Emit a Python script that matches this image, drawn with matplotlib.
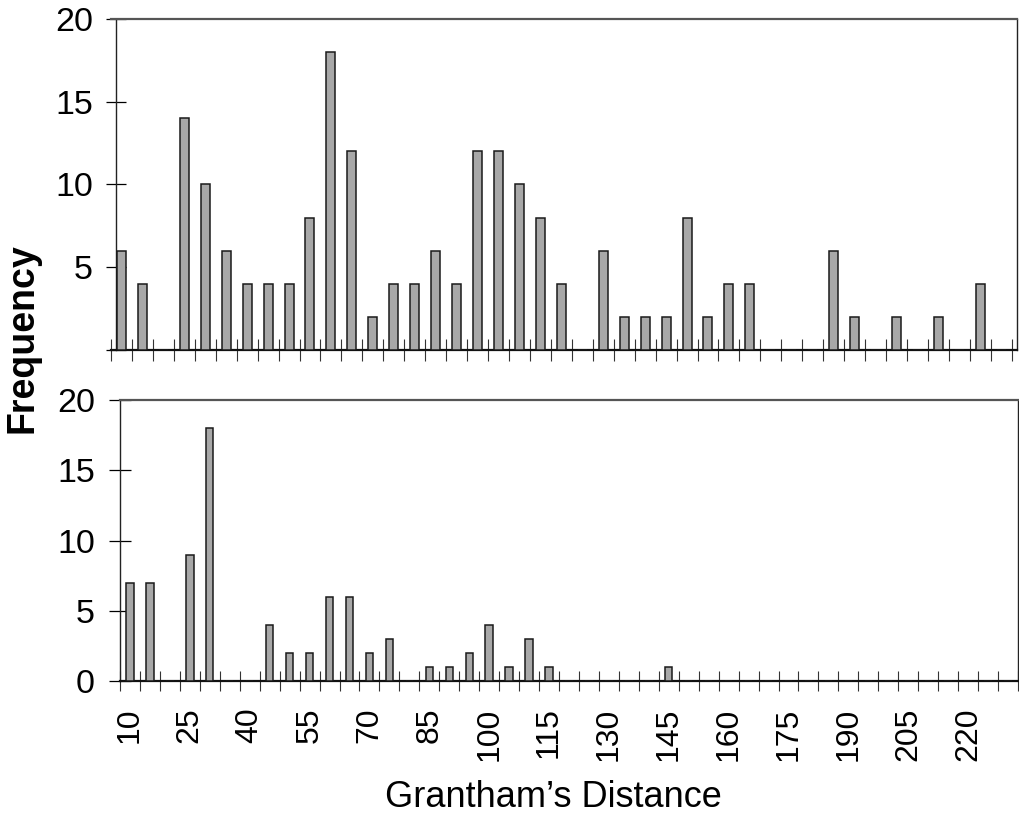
import matplotlib
matplotlib.use("Agg")
import matplotlib.pyplot as plt
import numpy as np

plt.rcParams['font.family'] = ['Liberation Sans', 'DejaVu Sans']

# ---- data ----
top_categories = list(range(10, 221, 5))          # 43 bins
top_values = [6, 4, 0, 14, 10, 6, 4, 4, 4, 8, 18, 12, 2, 4, 4, 6, 4, 12, 12, 10,
              8, 4, 0, 6, 2, 2, 2, 8, 2, 4, 4, 0, 0, 0, 6, 2, 0, 2, 0, 2,
              0, 4, 0]

bottom_categories = list(range(10, 231, 5))       # 45 bins
bottom_values = [7, 7, 0, 9, 18, 0, 0, 4, 2, 2, 6, 6, 2, 3, 0, 1, 1, 2, 4, 1,
                 3, 1, 0, 0, 0, 0, 0, 1, 0, 0, 0, 0, 0, 0, 0, 0, 0, 0, 0, 0,
                 0, 0, 0, 0, 0]

y_ticks = [0, 5, 10, 15, 20]
label_step = 3

W, H = 1020, 813
fig = plt.figure(figsize=(W / 100, H / 100), dpi=100)

bar_face = '#a8a8a8'
bar_edge = '#1a1a1a'

def px_axes(l, r, t, b):
    return fig.add_axes([l / W, 1 - b / H, (r - l) / W, (b - t) / H])

# ---- top panel ----
ax1 = px_axes(111, 1017, 19, 350)
n1 = len(top_categories)
x1 = np.arange(n1)
ax1.bar(x1, top_values, width=0.43, color=bar_face, edgecolor=bar_edge,
        linewidth=1.1, zorder=3)
ax1.set_xlim(-0.5, n1 - 0.5 + 5.3 / 20.95)
ax1.set_ylim(0, 20)
ax1.spines['left'].set_position(('data', -0.5 + 5 / 20.95))
ax1.set_xticks(np.arange(n1 + 1) - 0.5)
ax1.set_xticklabels([])
ax1.tick_params(axis='x', direction='inout', length=16, width=0.8, color='#333333')
ax1.set_yticks(y_ticks)
ax1.set_yticklabels(['' if v == 0 else str(v) for v in y_ticks], fontsize=24.5)
ax1.tick_params(axis='y', direction='inout', length=15, width=0.9, pad=9)

# ---- bottom panel ----
ax2 = px_axes(120, 1018, 400, 681)
n2 = len(bottom_categories)
x2 = np.arange(n2)
ax2.bar(x2, bottom_values, width=0.37, color=bar_face, edgecolor=bar_edge,
        linewidth=1.1, zorder=3)
ax2.set_xlim(-0.5, n2 - 0.5)
ax2.set_ylim(0, 20)
ax2.set_xticks(np.arange(n2 + 1) - 0.5, minor=True)
ax2.set_xticks(x2[::label_step])
ax2.set_xticklabels([str(c) for c in bottom_categories[::label_step]],
                    rotation=90, fontsize=23)
ax2.tick_params(axis='x', which='major', length=0, pad=19)
ax2.tick_params(axis='x', which='minor', direction='inout', length=15,
                width=0.8, color='#333333')
ax2.set_yticks(y_ticks)
ax2.set_yticklabels([str(v) for v in y_ticks], fontsize=24.5)
ax2.tick_params(axis='y', direction='inout', length=16, width=0.9, pad=10)

for ax in (ax1, ax2):
    ax.spines['top'].set_color('#555555')
    ax.spines['top'].set_linewidth(1.6)
    ax.spines['right'].set_color('#222222')
    ax.spines['right'].set_linewidth(1.0)
    ax.spines['left'].set_color('#222222')
    ax.spines['left'].set_linewidth(1.0)
    ax.spines['bottom'].set_color('#111111')
    ax.spines['bottom'].set_linewidth(1.6)
    ax.set_facecolor('white')

fig.text(23 / W, 1 - 338 / H, 'Frequency', rotation=90, fontsize=27,
         fontweight='bold', ha='center', va='center')
fig.text(553 / W, 1 - 797 / H, 'Grantham\u2019s Distance', fontsize=26,
         ha='center', va='center')

fig.savefig('out.png', dpi=100, facecolor='white')
